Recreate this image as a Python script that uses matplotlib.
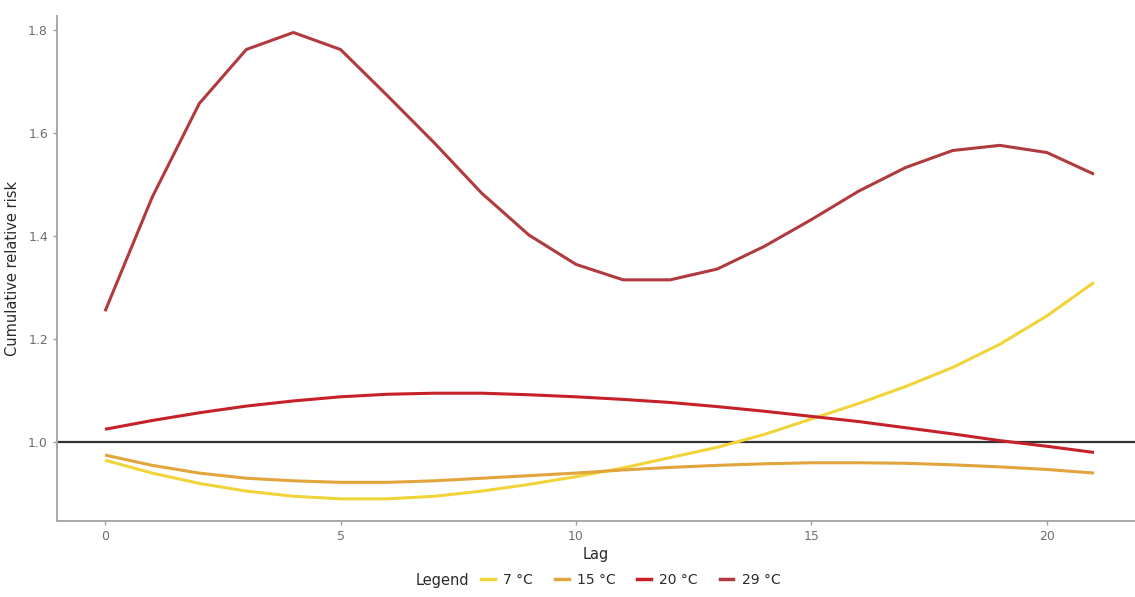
import matplotlib.pyplot as plt
from matplotlib.lines import Line2D

lag = list(range(22))

rr_7 = [0.965, 0.940, 0.920, 0.905, 0.895, 0.890, 0.890, 0.895, 0.905, 0.918, 0.933,
        0.950, 0.970, 0.990, 1.015, 1.045, 1.075, 1.108, 1.145, 1.190, 1.245, 1.310]
rr_15 = [0.975, 0.955, 0.940, 0.930, 0.925, 0.922, 0.922, 0.925, 0.930, 0.935, 0.940,
         0.946, 0.951, 0.955, 0.958, 0.960, 0.960, 0.959, 0.956, 0.952, 0.947, 0.940]
rr_20 = [1.025, 1.042, 1.057, 1.070, 1.080, 1.088, 1.093, 1.095, 1.095, 1.092, 1.088,
         1.083, 1.077, 1.069, 1.060, 1.050, 1.040, 1.028, 1.016, 1.003, 0.992, 0.980]
rr_29 = [1.254, 1.475, 1.657, 1.762, 1.795, 1.762, 1.672, 1.580, 1.483, 1.402, 1.345,
         1.315, 1.315, 1.336, 1.380, 1.432, 1.487, 1.533, 1.566, 1.576, 1.562, 1.520]

labels = ["7 °C", "15 °C", "20 °C", "29 °C"]
colors = ["#f0d43a", "#e2a43c", "#c42128", "#b03a3e"]
series = [rr_7, rr_15, rr_20, rr_29]

fig = plt.figure(figsize=(11.35, 5.97), dpi=100)
ax = fig.add_axes([57 / 1135, 76 / 597, 1 - 57 / 1135, 505 / 597])

for s, c in zip(series, colors):
    ax.plot(lag, s, color=c, lw=2.2, solid_capstyle="butt")
ax.axhline(1.0, color="#333333", lw=1.6, zorder=1)

ax.set_xlim(-1.02, 21.87)
ax.set_ylim(0.847, 1.827)
ax.set_xticks([0, 5, 10, 15, 20])
ax.set_yticks([1.0, 1.2, 1.4, 1.6, 1.8])
ax.set_yticklabels(["1.0", "1.2", "1.4", "1.6", "1.8"])
ax.tick_params(colors="#a0a0a0", labelcolor="#6e6e6e", labelsize=9, length=3, width=1)
for side in ["top", "right"]:
    ax.spines[side].set_visible(False)
for side in ["left", "bottom"]:
    ax.spines[side].set_color("#a8a8a8")
    ax.spines[side].set_linewidth(1.4)

ax.set_xlabel("Lag", fontsize=10.5, color="#2a2a2a", labelpad=3)
ax.set_ylabel("Cumulative relative risk", fontsize=10.5, color="#2a2a2a", labelpad=6)

handles = [Line2D([], [], color=c, lw=2.5) for c in colors]
fig.text(442 / 1135, 1 - 580 / 597, "Legend", fontsize=10.5, color="#2a2a2a",
         ha="center", va="center")
fig.legend(handles, labels, loc="center left", bbox_to_anchor=(481 / 1135, 1 - 580 / 597),
           ncol=4, frameon=False, fontsize=10, handlelength=1.0, columnspacing=1.55,
           handletextpad=0.6, labelcolor="#2a2a2a", borderaxespad=0, borderpad=0)

fig.savefig("out.png", dpi=100)
